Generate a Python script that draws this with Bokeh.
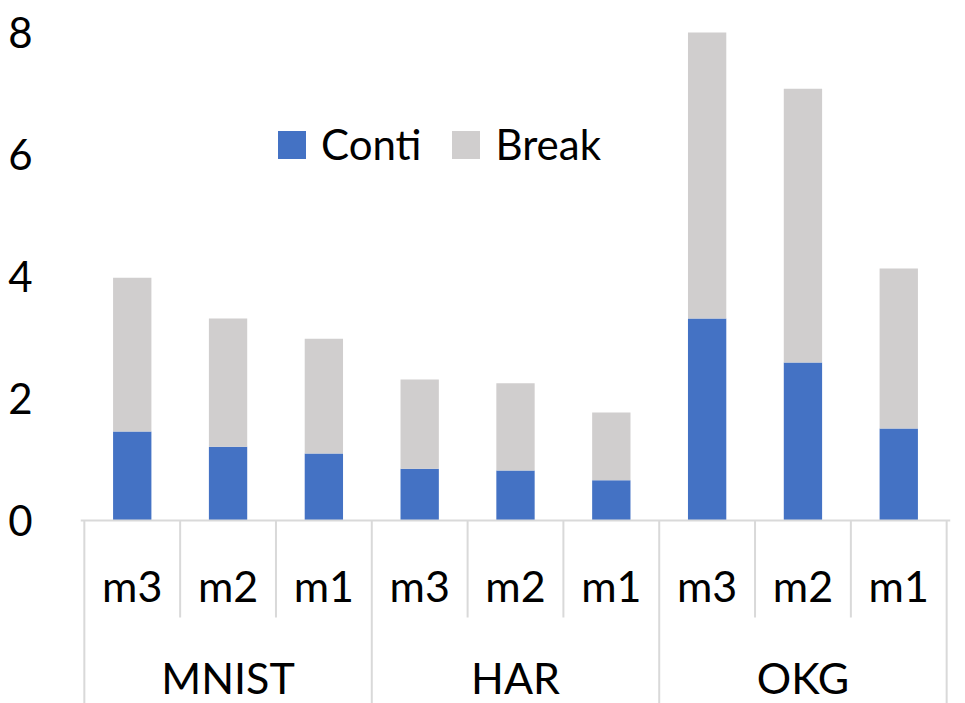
from bokeh.plotting import figure
from bokeh.models import FactorRange, Range1d, FixedTicker, Span, ColumnDataSource
from bokeh.core.properties import value
from bokeh.embed import file_html
from bokeh.resources import INLINE

groups = ["MNIST", "HAR", "OKG"]
subs = ["m3", "m2", "m1"]
conti = [1.46, 1.21, 1.10, 0.85, 0.82, 0.66, 3.31, 2.59, 1.51]
brk = [2.52, 2.10, 1.88, 1.46, 1.43, 1.11, 4.69, 4.49, 2.62]
y_ticks = [0, 2, 4, 6, 8]
series = ["Conti", "Break"]
colors = ["#4472C4", "#D0CECE"]

FONT = "Lato"
FS = "42px"
factors = [(g, s) for g in groups for s in subs]

src = ColumnDataSource(data=dict(x=factors, conti=conti, brk=brk))

p = figure(width=957, height=703,
           x_range=FactorRange(*factors, factor_padding=0, group_padding=0,
                               range_padding=0.04, range_padding_units="absolute"),
           y_range=Range1d(-3.0, 8.525),
           output_backend="svg", toolbar_location=None,
           min_border_left=80, min_border_right=7, min_border_top=0, min_border_bottom=0)

p.vbar_stack(["conti", "brk"], x="x", width=0.4, color=colors, source=src,
             legend_label=series, line_width=0)

p.xaxis.visible = False
p.xgrid.visible = False
p.ygrid.visible = False
p.outline_line_color = None

ax = p.yaxis[0]
ax.ticker = FixedTicker(ticks=y_ticks)
ax.axis_line_color = None
ax.major_tick_line_color = None
ax.minor_tick_line_color = None
ax.major_tick_out = 0
ax.major_tick_in = 0
ax.major_label_text_font = FONT
ax.major_label_text_font_size = FS
ax.major_label_text_color = "black"
ax.major_label_standoff = 48

sep_color = "#D9D9D9"
p.add_layout(Span(location=0, dimension="width", line_color=sep_color, line_width=2))

n = len(factors)
k = len(subs)
inner = [i for i in range(1, n) if i % k != 0]
outer = [i for i in range(0, n + 1) if i % k == 0]
p.segment(x0=inner, x1=inner, y0=[0] * len(inner), y1=[-1.59] * len(inner),
          line_color=sep_color, line_width=2)
p.segment(x0=outer, x1=outer, y0=[0] * len(outer), y1=[-3.2] * len(outer),
          line_color=sep_color, line_width=2)

p.text(x=factors, y=[-1.07] * len(factors), text=[s for g, s in factors],
       text_font=value(FONT), text_font_size="43px", text_align="center",
       text_baseline="alphabetic", text_color="black")
p.text(x=groups, y=[-2.57] * len(groups), text=groups,
       text_font=value(FONT), text_font_size="43px", text_align="center",
       text_baseline="alphabetic", text_color="black")

lg = p.legend[0]
lg.location = (194, 534)
lg.orientation = "horizontal"
lg.label_text_font = FONT
lg.label_text_font_size = FS
lg.label_text_color = "black"
lg.glyph_width = 35
lg.glyph_height = 35
lg.label_standoff = 12
lg.spacing = 27
lg.padding = 0
lg.margin = 0
lg.border_line_color = None
lg.background_fill_alpha = 0

open("out.html", "w").write(file_html(p, INLINE))
